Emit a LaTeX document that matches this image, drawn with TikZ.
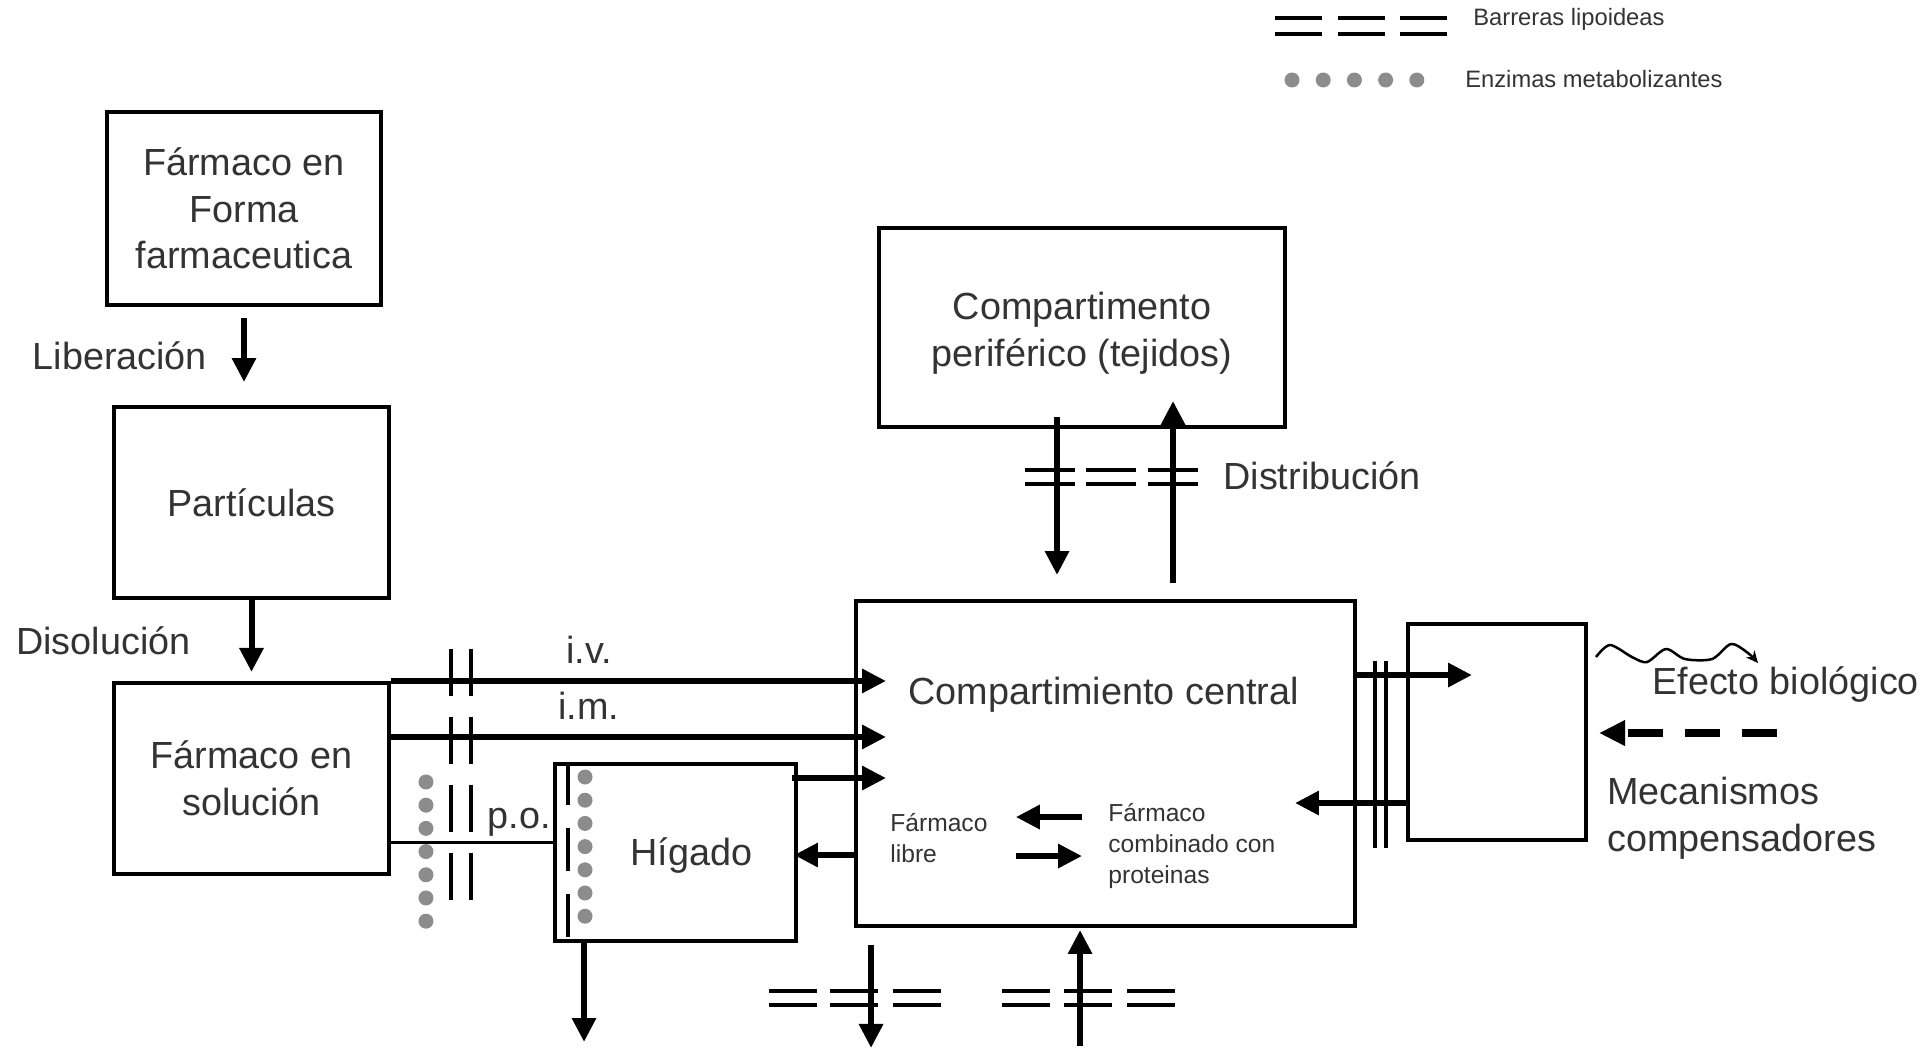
\documentclass[tikz,border=0pt]{standalone}
\usepackage{fontspec}
\setmainfont{Liberation Sans}
\usepackage{tikz}
\usetikzlibrary{arrows.meta,positioning,calc}

\begin{document}
\begin{tikzpicture}[x=0.02cm, y=-0.02cm,
        box/.style={draw, line width=0.08cm, inner sep=0pt},
        txt/.style={font=\fontsize{21.5}{26.5}\selectfont, text=black!80, align=center, inner sep=0pt},
        note/.style={font=\fontsize{14}{17.5}\selectfont, text=black!80, align=left, inner sep=0pt},
        legend/.style={font=\fontsize{13.5}{16}\selectfont, text=black!80, inner sep=0pt},
        arr/.style={line width=0.12cm, -{Triangle[length=0.48cm, width=0.46cm]}},
        lipid/.style={double, line width=0.07cm, double distance=0.21cm},
        enzyme/.style={circle, fill=black!45, inner sep=0pt, minimum size=0.3cm}
    ]
    \useasboundingbox (0,0) rectangle (1926,1051);

    % ---- Forma farmaceutica -> particulas -> solucion ----
    \node[box, txt, minimum width=5.48cm, minimum height=3.86cm] (forma) at (244,208.5) {Fármaco en\\Forma\\farmaceutica};
    \node[box, txt, minimum width=5.5cm, minimum height=3.82cm] (part) at (251.5,502.5) {Partículas};
    \node[box, txt, minimum width=5.5cm, minimum height=3.82cm, below=1.62cm of part] (sol) {Fármaco en\\solución};

    % ---- Compartimientos ----
    \node[box, minimum width=9.98cm, minimum height=6.5cm] (central) at (1105.5,763.5) {};
    \node[txt] (centtxt) at ($(central.north)+(-2,96)$) {Compartimiento central};
    \node[box, minimum width=8.12cm, minimum height=3.98cm] (periph) at (1082,327.5) {};
    \node[txt] (periphtxt) at ($(periph)+(0,6)$) {Compartimento\\periférico (tejidos)};
    \node[box, minimum width=4.82cm, minimum height=3.54cm] (higado) at (675.5,852.5) {};
    \node[txt] (higtxt) at ($(higado)+(16,3)$) {Hígado};
    \node[box, minimum width=3.56cm, minimum height=4.32cm] (efecto) at (1497,732) {};

    % Farmaco libre / combinado
    \node[note, anchor=west] (libre) at ($(central.north west)+(36,239)$) {Fármaco\\libre};
    \node[note, anchor=west] (comb) at ($(central.north west)+(254,247)$) {Fármaco\\combinado con\\proteinas};

    % ---- Barreras lipoideas ----
    \foreach \dx in {148,209,271}
        \draw[lipid] ($(periph.south west)+(\dx,48)$) -- ++(50,0);
    \foreach \dx in {-85,-24,39,148,210,273}
        \draw[lipid] ($(central.south west)+(\dx,70)$) -- ++(48,0);
    \draw[lipid, double distance=0.15cm] ($(central.north east)+(23.5,62)$) -- ++(0,187);
    \foreach \dx in {60,80}
        \draw[line width=0.07cm, dash pattern=on 0.94cm off 0.42cm] ($(sol.north east)+(\dx,-32)$) -- ++(0,251);
    \draw[line width=0.07cm, dash pattern=on 0.86cm off 0.46cm] ($(higado.north west)+(15,0)$) -- ($(higado.south west)+(15,0)$);

    % Liberacion y disolucion
    \draw[arr, shorten <=0.22cm, shorten >=0.46cm] (forma.south) -- node[txt, left=0.68cm] (liblbl) {Liberación} (forma.south |- part.north);
    \draw[arr, shorten >=0.18cm] (part.south) -- node[txt, left=1.16cm] (dislbl) {Disolución} (part.south |- sol.north);

    % Vias de administracion
    \draw[arr] (sol.north east) -- node[txt, pos=0.4, above=0.28cm] (ivlbl) {i.v.} ($(central.west |- sol.north east)+(32,0)$);
    \draw[arr] ($(sol.north east)+(0,56)$) -- node[txt, pos=0.4, above=0.28cm] (imlbl) {i.m.} ($(central.west |- sol.north east)+(32,56)$);
    \draw[line width=0.06cm] ($(sol.north east)+(0,162)$) coordinate (po) -- node[txt, pos=0.79, above=0.1cm] (polbl) {p.o.} (po -| higado.west);

    % Enzimas metabolizantes
    \foreach \k in {0,...,6} {
        \node[enzyme] (enzA\k) at ($(sol.north east)+(35,{101+23.2*\k})$) {};
        \node[enzyme] (enzB\k) at ($(higado.north west)+(32,{15+23.2*\k})$) {};
    }

    % Higado <-> central
    \draw[arr] ($(higado.north east)+(-6,16)$) -- ($(central.west |- higado.north east)+(32,16)$);
    \draw[arr] ($(central.west |- higado.north east)+(0,93)$) -- ($(higado.north east)+(-4,93)$);
    \draw[arr] ($(higado.south west)+(31,0)$) -- ($(higado.south west)+(31,99)$);

    % Libre <-> combinado
    \draw[arr] ($(comb.west)+(-26,-29)$) -- ($(libre.east)+(28,-21)$);
    \draw[arr] ($(libre.east)+(28,18)$) -- ($(comb.west)+(-26,10)$);

    % Distribucion
    \draw[arr] ($(periph.south west)+(180,-12)$) -- ($(central.north -| periph.south west)+(180,-24)$);
    \draw[arr] ($(central.north -| periph.south west)+(296,-16)$) -- ($(periph.south west)+(296,-28)$);
    \node[txt, anchor=west] (distlbl) at ($(periph.south west)+(346,47)$) {Distribución};

    % Eliminacion / entrada inferior
    \draw[arr] ($(central.south west)+(17,17)$) -- ($(central.south west)+(17,120)$);
    \draw[arr] ($(central.south west)+(226,118)$) -- ($(central.south west)+(226,2)$);

    % Efecto biologico
    \draw[arr] ($(central.north east)+(0,76)$) -- ($(efecto.north west |- central.north east)+(66,76)$);
    \draw[arr] ($(efecto.north west)+(0,181)$) -- ($(central.north east |- efecto.north west)+(-62,181)$);
    \begin{scope}[shift={(efecto.north east)}]
        \draw[line width=0.05cm, -{Stealth[length=0.24cm, width=0.22cm]}] plot[smooth] coordinates
            {(8,35) (22,23) (44,35) (59,40) (78,27) (97,37) (124,37) (143,22) (160,31) (170,41)};
    \end{scope}
    \draw[line width=0.15cm, dash pattern=on 0.7cm off 0.44cm, -{Triangle[length=0.52cm, width=0.48cm]}] ($(efecto.north east)+(189,111)$) -- ($(efecto.north east)+(11,111)$);
    \node[txt, anchor=west] (eflbl) at ($(efecto.north east)+(64,62)$) {Efecto biológico};
    \node[txt, anchor=west, align=left] (meclbl) at ($(efecto.north east)+(19,196)$) {Mecanismos\\compensadores};

    % ---- Leyenda ----
    \foreach \x in {1275,1338,1400}
        \draw[lipid, double distance=0.25cm] (\x,26) -- ++(47,0);
    \foreach \k in {0,...,4}
        \node[enzyme] (leg\k) at ({1292+31.2*\k},80) {};
    \node[legend, anchor=west] (barlbl) at (1473,19) {Barreras lipoideas};
    \node[legend, anchor=west] (enzlbl) at (1465,79) {Enzimas metabolizantes};

\end{tikzpicture}
\end{document}
